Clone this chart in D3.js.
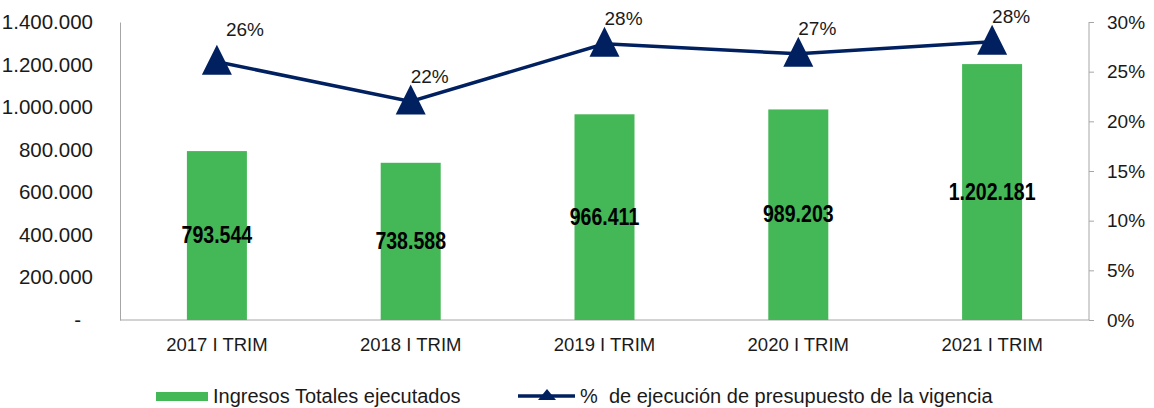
<!DOCTYPE html>
<html>
<head>
<meta charset="utf-8">
<script src="https://cdn.jsdelivr.net/npm/d3@7"></script>
<style>
  body { margin: 0; background: #fff; }
  svg text { font-family: "Liberation Sans", Arial, sans-serif; fill: #1a1a1a; }
  .axis path, .axis line { stroke: #a6a6a6; }
</style>
</head>
<body>
<div id="chart"></div>
<script>
// Ingresos totales ejecutados vs % de ejecucion

const categories = ["2017 I TRIM", "2018 I TRIM", "2019 I TRIM", "2020 I TRIM", "2021 I TRIM"]
const ingresos = [793544, 738588, 966411, 989203, 1202181]
const ejecucion = [0.26, 0.22, 0.278, 0.268, 0.28]
const ejecucionLabels = ["26%", "22%", "28%", "27%", "28%"]
const leftTicks = [0, 200000, 400000, 600000, 800000, 1000000, 1200000, 1400000]
const rightTicks = [0, 0.05, 0.1, 0.15, 0.2, 0.25, 0.3]
const legendLabels = ["Ingresos Totales ejecutados", "%  de ejecución de presupuesto de la vigencia"]

const W = 1154
const H = 408
const margin = { top: 22, right: 65, bottom: 88, left: 120 }
const width = W - margin.left - margin.right
const height = H - margin.top - margin.bottom

const green = "#44b757"
const navy = "#002060"

const svg = d3.select("#chart").append("svg").attr("width", W).attr("height", H)
const g = svg.append("g").attr("transform", `translate(${margin.left},${margin.top})`)

const x = d3.scaleBand().domain(categories).range([0, width])
const yLeft = d3.scaleLinear().domain([0, 1400000]).range([height, 0])
const yRight = d3.scaleLinear().domain([0, 0.3]).range([height, 0])

const fmtNum = (v) => (v === 0 ? "-" : d3.format(",")(v).replace(/,/g, "."))

// left axis
const gl = g.append("g").attr("class", "axis").call(
  d3.axisLeft(yLeft).tickValues(leftTicks).tickFormat(fmtNum).tickSize(0).tickPadding(27),
)
gl.selectAll("text").style("font-size", "20.5px")
// excel pads the zero dash a little to the left
gl.selectAll("text").filter((d) => d === 0).attr("dx", -12)

// right axis
const gr = g
  .append("g")
  .attr("class", "axis")
  .attr("transform", `translate(${width},0)`)
  .call(d3.axisRight(yRight).tickValues(rightTicks).tickFormat(d3.format(".0%")).tickSize(5).tickPadding(13))
gr.selectAll("text").style("font-size", "19px")
gr.select(".domain").attr("d", `M0,0V${height}`)

// bottom axis
const gb = g
  .append("g")
  .attr("class", "axis")
  .attr("transform", `translate(0,${height})`)
  .call(d3.axisBottom(x).tickSize(0).tickPadding(18))
gb.selectAll("text").style("font-size", "18.5px")
gb.select(".domain").attr("d", `M0,0H${width}`)

// bars
const barW = 60
g.selectAll(".bar")
  .data(ingresos)
  .enter()
  .append("rect")
  .attr("class", "bar")
  .attr("x", (d, i) => x(categories[i]) + x.bandwidth() / 2 - barW / 2)
  .attr("y", (d) => yLeft(d))
  .attr("width", barW)
  .attr("height", (d) => height - yLeft(d))
  .attr("fill", green)

// condensed bold labels inside bars
g.selectAll(".bar-label")
  .data(ingresos)
  .enter()
  .append("text")
  .attr("class", "bar-label")
  .attr("transform", (d, i) => `translate(${x(categories[i]) + x.bandwidth() / 2},${(yLeft(d) + height) / 2}) scale(0.85,1)`)
  .attr("text-anchor", "middle")
  .attr("dominant-baseline", "central")
  .style("font-weight", "bold")
  .style("font-size", "23px")
  .style("fill", "#000")
  .text((d) => fmtNum(d))

// line
const cx = (i) => x(categories[i]) + x.bandwidth() / 2
const line = d3
  .line()
  .x((d, i) => cx(i))
  .y((d) => yRight(d))

g.append("path").datum(ejecucion).attr("d", line).attr("fill", "none").attr("stroke", navy).attr("stroke-width", 3.5)

const tri = "M0,-17L15,13L-15,13Z"
g.selectAll(".marker")
  .data(ejecucion)
  .enter()
  .append("path")
  .attr("class", "marker")
  .attr("d", tri)
  .attr("transform", (d, i) => `translate(${cx(i)},${yRight(d)})`)
  .attr("fill", navy)

g.selectAll(".pct-label")
  .data(ejecucion)
  .enter()
  .append("text")
  .attr("class", "pct-label")
  .attr("x", (d, i) => cx(i) + (i === 0 ? 9 : 0))
  .attr("y", (d, i) => yRight(d) - (i === 0 ? 32 : 25))
  .attr("dominant-baseline", "central")
  .style("font-size", "19px")
  .text((d, i) => ejecucionLabels[i])

// legend
const lg = svg.append("g").attr("transform", "translate(0,396)")
lg.append("rect").attr("x", 156).attr("y", -4).attr("width", 52).attr("height", 9).attr("fill", green)
lg.append("text")
  .attr("x", 213)
  .attr("y", 0)
  .attr("dominant-baseline", "central")
  .style("font-size", "20px")
  .text(legendLabels[0])
lg.append("line").attr("x1", 518).attr("x2", 575).attr("y1", 0).attr("y2", 0).attr("stroke", navy).attr("stroke-width", 3.5)
lg.append("path").attr("d", "M0,-7L9,4L-9,4Z").attr("transform", "translate(547,0)").attr("fill", navy)
lg.append("text")
  .attr("x", 580)
  .attr("y", 0)
  .attr("dominant-baseline", "central")
  .style("font-size", "20px")
  .style("white-space", "pre")
  .attr("xml:space", "preserve")
  .text(legendLabels[1])
</script>
</body>
</html>
